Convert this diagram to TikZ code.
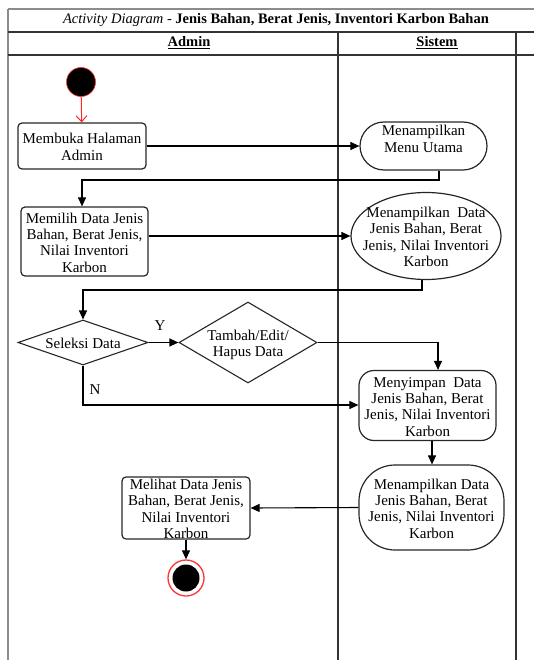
\documentclass[tikz,border=0pt]{standalone}
\usepackage{fontspec}
\setmainfont{Liberation Serif}
\usetikzlibrary{shapes.geometric,arrows.meta}

% centred multi-line text that takes no room, so a shape keeps its set size
\newcommand{\flatlines}[1]{\makebox[0pt]{\smash{\raisebox{-6.5pt}{\begin{tabular}{@{}c@{}}#1\end{tabular}}}}}

\tikzset{
  x=1pt, y=-1pt,
  txt/.style={font=\fontsize{15}{16.4}\selectfont},
  lane/.style={draw=black!80, line width=1.1pt},
  frame/.style={draw=black!45, line width=1.1pt},
  act/.style={txt, draw=black!85, line width=1.2pt, rectangle, rounded corners=4pt, inner sep=0pt},
  sysact/.style={txt, draw=black!85, line width=1.2pt, rectangle, inner sep=0pt},
  sysell/.style={txt, draw=black!85, line width=1.2pt, ellipse, inner sep=0pt},
  choice/.style={txt, draw=black!85, line width=1.1pt, diamond, inner sep=0pt},
  flow/.style={draw=black, line width=1.1pt, -{Triangle[length=9pt,width=8pt]}},
  startflow/.style={draw=red!85, line width=1pt, -{Straight Barb[length=6pt,width=11pt]}},
  flowlabel/.style={txt, inner sep=0pt}
}

\begin{document}
\begin{tikzpicture}
\useasboundingbox (0,0) rectangle (534,660);

% table frame: title row, lane header row and the lanes
\draw[frame] (8,9) -- (534,9);
\draw[frame] (8,9) -- (8,660);
\draw[lane] (8,32) -- (534,32);
\draw[lane] (8,55) -- (534,55);
\draw[lane] (338,32) -- (338,660);
\draw[lane] (516,32) -- (516,660);

\node[inner sep=0pt, font=\fontsize{14.5}{16}\selectfont] (title) at (276,20.5)
  {\textit{Activity Diagram} - \textbf{Jenis Bahan, Berat Jenis, Inventori Karbon Bahan}};
\node[inner sep=0pt, font=\fontsize{14.5}{16}\selectfont\bfseries] (hadmin) at (189,43) {\underline{Admin}};
\node[inner sep=0pt, font=\fontsize{14.5}{16}\selectfont\bfseries] (hsistem) at (437,43) {\underline{Sistem}};

% start and end points
\node[circle, fill=black, draw=red!80, line width=0.6pt, minimum width=29pt, minimum height=26pt, inner sep=0pt] (start) at (81,82) {};
\node[circle, draw=red!80, line width=1.3pt, minimum size=36pt, inner sep=0pt] (stop) at (186,578) {};
\node[circle, fill=black, minimum size=27pt, inner sep=0pt] (stopdot) at (186,578) {};

% admin activities
\node[act, minimum width=128pt, minimum height=46pt] (a1) at (82,146) {\flatlines{Membuka Halaman\\Admin}};
\node[act, minimum width=127pt, minimum height=69pt] (a2) at (84.5,241.5) {\flatlines{Memilih Data Jenis\\Bahan, Berat Jenis,\\Nilai Inventori\\Karbon}};
\node[act, minimum width=128pt, minimum height=62pt] (a3) at (186,508) {\flatlines{Melihat Data Jenis\\Bahan, Berat Jenis,\\Nilai Inventori\\Karbon}};

% decisions
\node[choice, minimum width=130pt, minimum height=45pt] (d1) at (83,342.5) {\flatlines{Seleksi Data}};
\node[choice, minimum width=138pt, minimum height=81pt] (d2) at (248,342.5) {\flatlines{Tambah/Edit/\\Hapus Data}};

% system activities
\node[sysact, rounded corners=24pt, minimum width=127pt, minimum height=48pt] (s1) at (423.5,146) {\smash{\raisebox{8pt}{\flatlines{Menampilkan\\Menu Utama}}}};
\node[sysell, minimum width=150pt, minimum height=87pt] (s2) at (426,236) {\flatlines{Menampilkan~ Data\\Jenis Bahan, Berat\\Jenis, Nilai Inventori\\Karbon}};
\node[sysact, rounded corners=15pt, minimum width=137pt, minimum height=70pt] (s3) at (427.5,405.5) {\flatlines{Menyimpan~ Data\\Jenis Bahan, Berat\\Jenis, Nilai Inventori\\Karbon}};
\node[sysact, rounded corners=36pt, minimum width=145pt, minimum height=85pt] (s4) at (431.5,507.5) {\flatlines{Menampilkan Data\\Jenis Bahan, Berat\\Jenis, Nilai Inventori\\Karbon}};

% flows
\draw[startflow] (start) -- (a1);
\draw[flow] (a1.east) -- (s1.west);
\draw[flow] (s1.south -| 439,0) -- (439,180) -- (82,180) -- (a2.north -| 82,0);
\draw[flow] (s2.west -| a2.east) -- (s2.west);
\draw[flow] (s2.south -| 422,0) -- (422,290) -- (83,290) -- (d1.north);
\draw[flow] (d1.east) -- (d2.west);
\draw[flow] (d2.east) -- (438,342.5) -- (s3.north -| 438,0);
\draw[flow] (d1.south) -- (83,405) -- (s3.west |- 0,405);
\draw[flow] (s3.south -| 432,0) -- (s4.north -| 432,0);
\draw[flow] (s4.west) -- (a3.east);
\draw[flow] (a3.south) -- (stop.north);

\node[flowlabel] (ylab) at (160,326) {Y};
\node[flowlabel] (nlab) at (95,390) {N};
\end{tikzpicture}
\end{document}
